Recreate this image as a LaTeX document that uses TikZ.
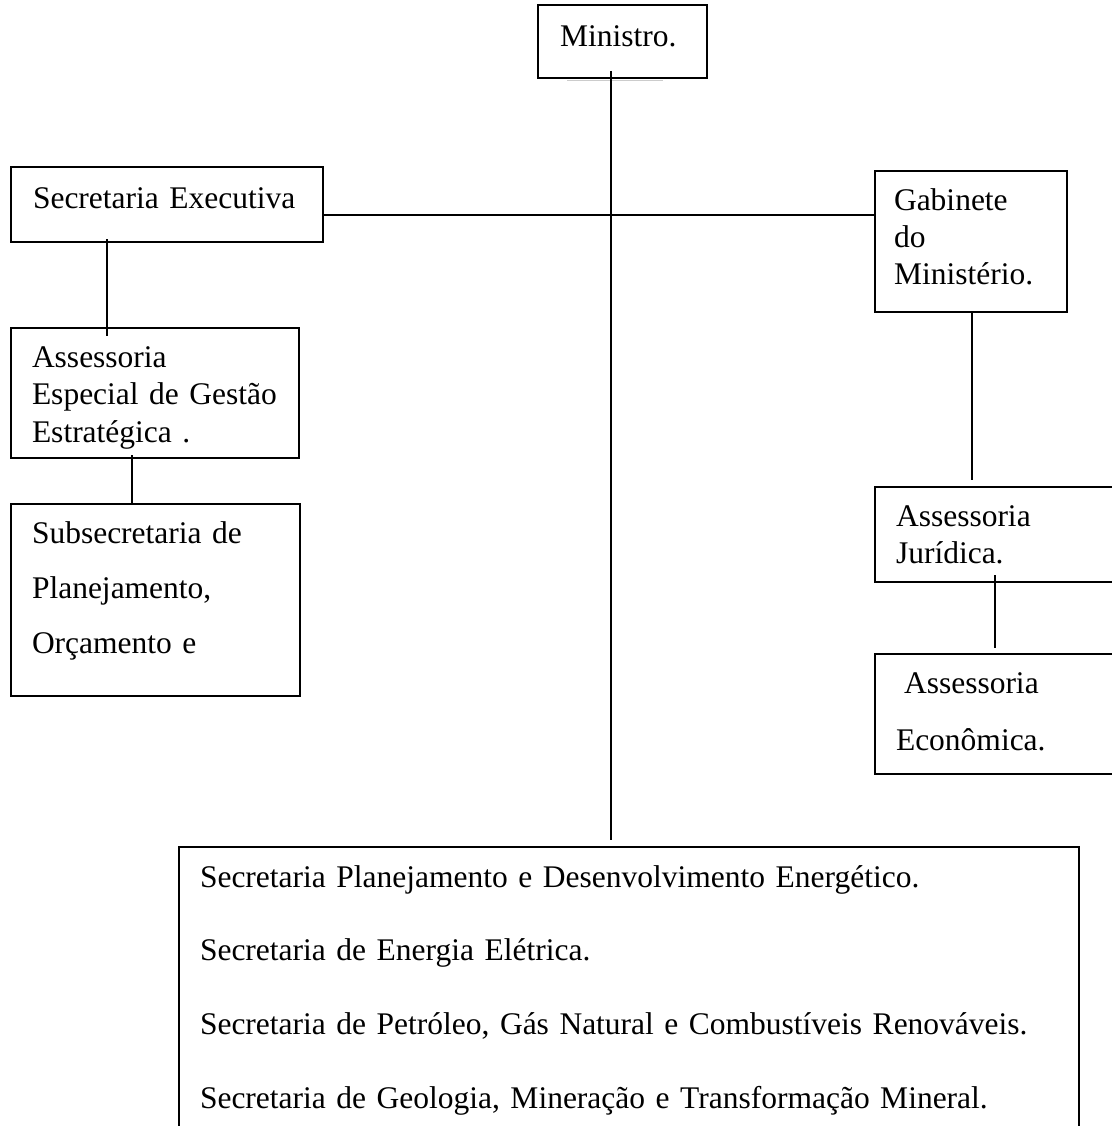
\documentclass[tikz,border=0pt]{standalone}
\usepackage{fontspec}
\setmainfont{Liberation Serif}
\usepackage{tikz}

\tikzset{
  unit/.style={draw, line width=1.6pt, anchor=base west, outer sep=0pt, inner ysep=0pt, inner xsep=21pt, align=left},
  spaced/.style={font=\fontsize{31.5}{#1}\selectfont}
}

\begin{document}
\begin{tikzpicture}[x=1pt, y=-1pt, line width=1.6pt]
    \useasboundingbox (0,0) rectangle (1111,1126);

    \node [unit, spaced=37.5, inner xsep=22pt, text width=125pt, text height=42pt, text depth=31pt] (min) at (538,47) {Ministro.};
    \draw [gray!40, line width=1.2pt] ([xshift=29pt, yshift=-2.5pt]min.south west) -- ([xshift=-44pt, yshift=-2.5pt]min.south east);

    \node [unit, spaced=37.5, inner xsep=22pt, text width=268pt, text height=41pt, text depth=34pt] (sexec) at (11,208) {Secretaria Executiva};
    \node [unit, spaced=37.5, text width=246pt, text height=39pt, text depth=91pt] (esp) at (11,367) {Assessoria\\Especial de Gestão\\Estratégica .};
    \node [unit, spaced=55, text width=247pt, text height=39pt, text depth=153pt] (sub) at (11,543) {Subsecretaria de\\Planejamento,\\Orçamento e};

    \node [unit, spaced=37, inner xsep=19pt, text width=154pt, text height=39pt, text depth=102pt] (gab) at (875,210) {Gabinete\\do\\Ministério.};
    \node [unit, spaced=37, text width=203pt, text height=39pt, text depth=56pt] (jur) at (875,526) {Assessoria\\Jurídica.};
    \node [unit, spaced=57, text width=203pt, text height=39pt, text depth=81pt] (eco) at (875,693) {\hspace*{8pt}Assessoria\\Econômica.};

    \node [unit, spaced=73.7, text width=858pt, text height=40pt, text depth=253pt] (secr) at (179,887) {Secretaria Planejamento e Desenvolvimento Energético.\\Secretaria de Energia Elétrica.\\Secretaria de Petróleo, Gás Natural e Combustíveis Renováveis.\\Secretaria de Geologia, Mineração e Transformação Mineral.};

    %\draw (min.south) -- (secr.north);
    \coordinate (trunk) at ([xshift=-11.5pt, yshift=7pt]min.south);
    \draw [shorten >=7pt] (trunk) -- (trunk |- secr.north);

    \draw ([yshift=-10.5pt]sexec.east) -- ([yshift=-10.5pt]sexec.east -| gab.west);

    \draw [shorten >=-8pt] ([xshift=-60pt, yshift=3pt]sexec.south) -- ([xshift=-60pt]sexec.south |- esp.north);
    \draw ([xshift=-23pt, yshift=3pt]esp.south) -- ([xshift=-23pt]esp.south |- sub.north);

    \draw [shorten >=7pt] ([xshift=1pt]gab.south) -- ([xshift=1pt]gab.south |- jur.north);
    \draw [shorten >=6pt] ([xshift=-2.5pt, yshift=7pt]jur.south) -- ([xshift=-2.5pt]jur.south |- eco.north);
\end{tikzpicture}
\end{document}
